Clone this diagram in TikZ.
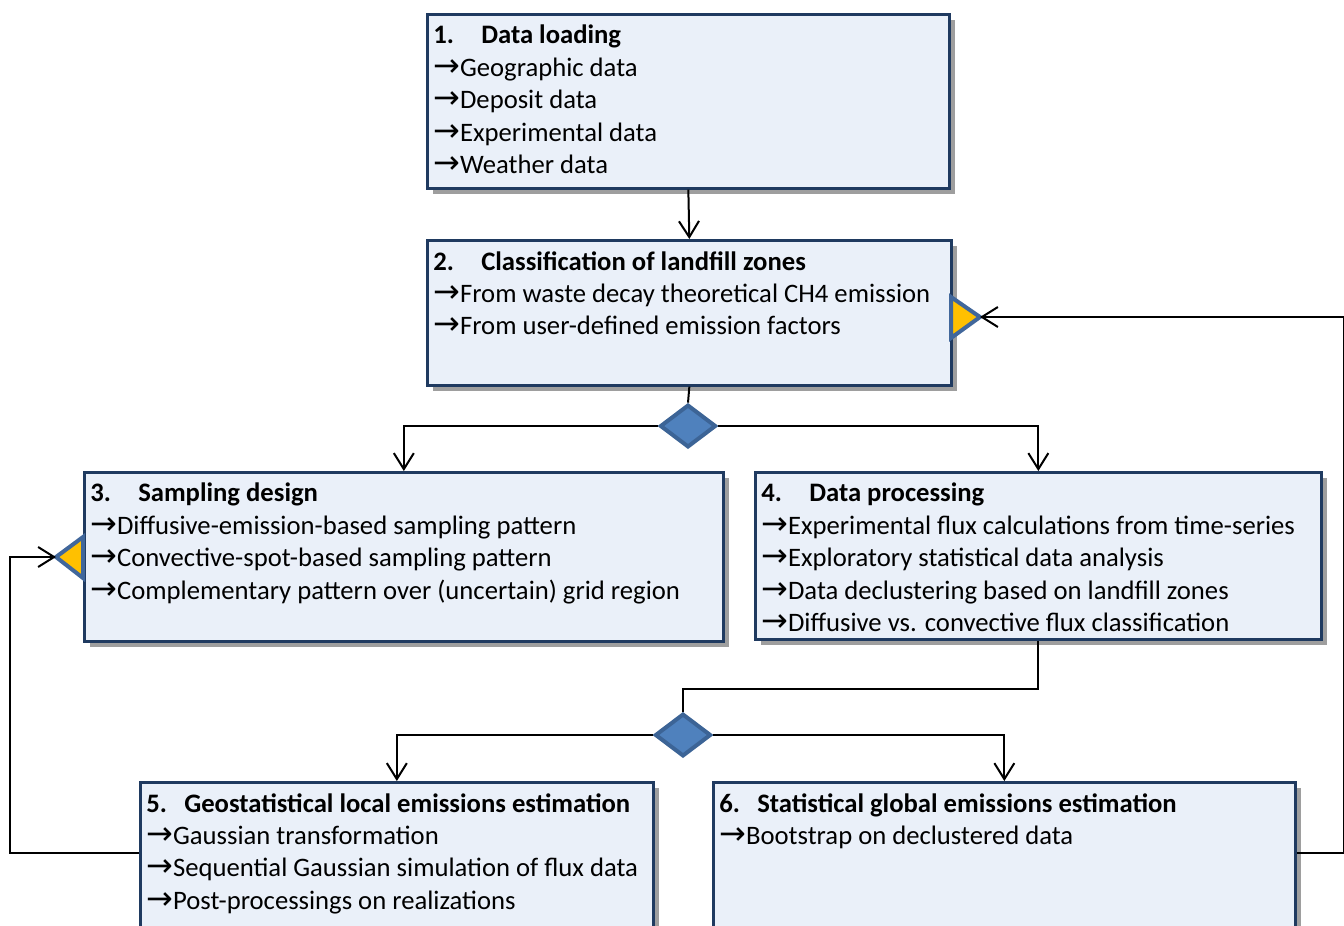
\documentclass[tikz,border=0pt]{standalone}
\usepackage{fontspec}
\usepackage{graphicx}
\setmainfont{Carlito}
\newfontfamily\arrfont{DejaVu Sans}
\usetikzlibrary{shapes.geometric,arrows.meta,shadows}

\definecolor{boxfill}{HTML}{EAF0F9}
\definecolor{boxline}{HTML}{1F3A60}
\definecolor{shadowgray}{HTML}{9E9E9E}
\definecolor{decfill}{HTML}{4F81BD}
\definecolor{decline}{HTML}{3C6496}
\definecolor{loopfill}{HTML}{FFC000}
\definecolor{loopline}{HTML}{41679B}

\newcommand{\rarr}{{\arrfont\scalebox{1.2}{→}}}
\newcommand{\stitle}[3][36pt]{\textbf{\makebox[#1][l]{#2}#3}}

\tikzset{
  box/.style={draw=boxline, line width=2pt, fill=boxfill, anchor=north west,
    inner sep=0pt, drop shadow={shadow xshift=4pt, shadow yshift=-4pt,
    opacity=1, fill=shadowgray}},
  txt/.style={anchor=north west, inner sep=0pt, align=left,
    font=\fontsize{20}{24.3}\selectfont},
  decide/.style={diamond, draw=decline, line width=3pt, fill=decfill,
    minimum width=42pt, minimum height=32pt, inner sep=0pt},
  loopmark/.style={draw=loopline, line width=3pt, fill=loopfill, line join=miter},
  flow/.style={line width=1.5pt, -{Straight Barb[length=12pt,width=15pt,line width=1.5pt]}},
  link/.style={line width=1.5pt}
}

\begin{document}
\begin{tikzpicture}[x=0.75pt,y=-0.75pt]
\clip (0,0) rectangle (1344,925);

% boxes
\node[box, minimum width=391.5pt, minimum height=130.5pt] (b1) at (426,13) {};
\node[box, minimum width=393pt, minimum height=108.75pt] (b2) at (426,239) {};
\node[box, minimum width=479.25pt, minimum height=126.75pt] (b3) at (83,471) {};
\node[box, minimum width=424.5pt, minimum height=125.25pt] (b4) at (754,471) {};
\node[box, minimum width=384.75pt, minimum height=127.5pt] (b5) at (139,781) {};
\node[box, minimum width=436.5pt, minimum height=127.5pt] (b6) at (712,781) {};

% texts
\node[txt] (t1) at ([shift={(7,12)}]b1.north west)
  {\stitle{1.}{Data loading}\\\rarr Geographic data\\\rarr Deposit data\\
   \rarr Experimental data\\\rarr Weather data};
\node[txt] (t2) at ([shift={(7,12)}]b2.north west)
  {\stitle{2.}{Classification of landfill zones}\\
   \rarr From waste decay theoretical CH4 emission\\
   \rarr From user-defined emission factors};
\node[txt] (t3) at ([shift={(7,12)}]b3.north west)
  {\stitle{3.}{Sampling design}\\
   \rarr Diffusive-emission-based sampling pattern\\
   \rarr Convective-spot-based sampling pattern\\
   \rarr Complementary pattern over (uncertain) grid region};
\node[txt] (t4) at ([shift={(7,12)}]b4.north west)
  {\stitle{4.}{Data processing}\\
   \rarr Experimental flux calculations from time-series\\
   \rarr Exploratory statistical data analysis\\
   \rarr Data declustering based on landfill zones\\
   \rarr Diffusive vs. convective flux classification};
\node[txt] (t5) at ([shift={(7,12)}]b5.north west)
  {\stitle[28.5pt]{5.}{Geostatistical local emissions estimation}\\
   \rarr Gaussian transformation\\
   \rarr Sequential Gaussian simulation of flux data\\
   \rarr Post-processings on realizations};
\node[txt] (t6) at ([shift={(7,12)}]b6.north west)
  {\stitle[28.5pt]{6.}{Statistical global emissions estimation}\\
   \rarr Bootstrap on declustered data};

% decisions
\node[decide] (d1) at (688,426) {};
\node[decide] (d2) at (683,735) {};

% loop marks
\coordinate (m2) at (980,317);
\coordinate (m3) at (56,557);
\filldraw[loopmark] (m2) -- (951,297) -- (951,338) -- cycle;
\filldraw[loopmark] (m3) -- (83,537) -- (83,578) -- cycle;

% connectors
\draw[flow] (b1.south) -- (b2.north);
\draw[link] (b2.south) -- (d1.north);
\draw[flow] (d1.west) -| (b3.north);
\draw[flow] (d1.east) -| (b4.north);
\draw[link] (b4.south) -- ++(0,48) -| (d2.north);
\draw[flow] (d2.west) -| (b5.north);
\draw[flow] (d2.east) -| (b6.north);
\draw[flow] ([yshift=-54pt]b5.north west) -- ++(-129,0) |- (m3);
\draw[flow] ([yshift=-54pt]b6.north east) -- ++(47,0) |- (m2);
\end{tikzpicture}
\end{document}
